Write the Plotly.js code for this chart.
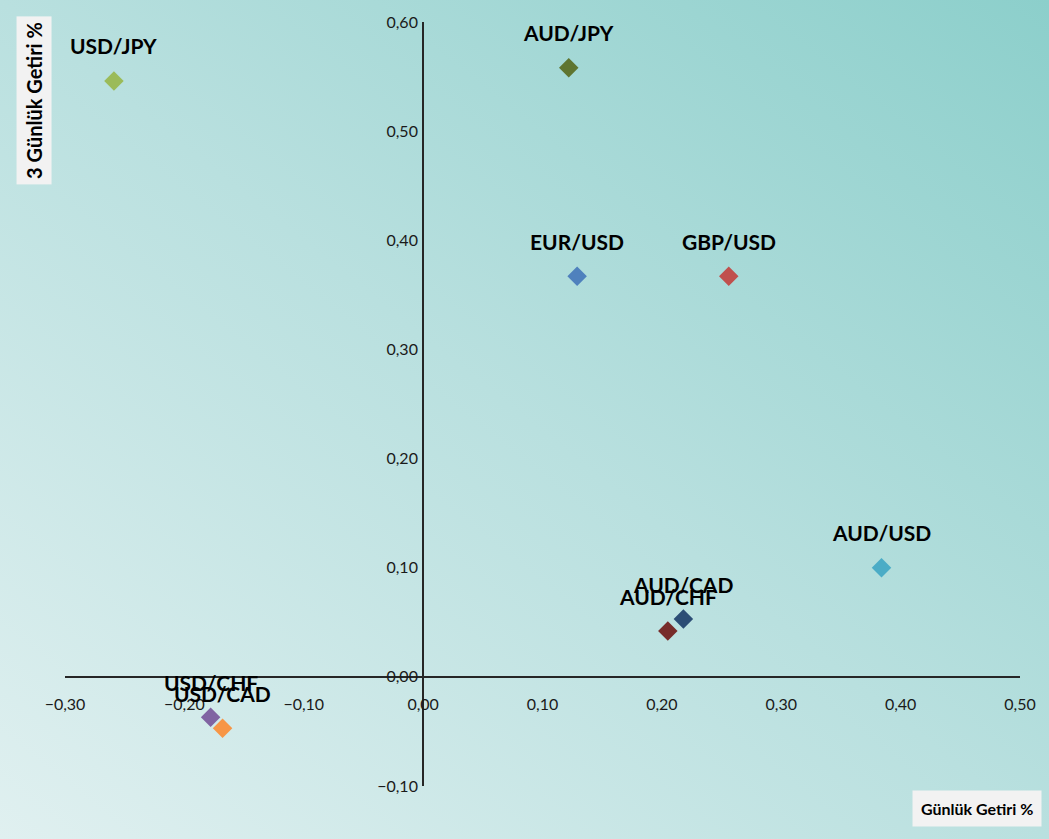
<!DOCTYPE html>
<html>
<head>
<meta charset="utf-8">
<script src="https://cdn.plot.ly/plotly-3.0.1.min.js"></script>
<style>
  html, body { margin: 0; padding: 0; background: #ffffff; }
  #chart {
    width: 1049px; height: 839px;
    background: linear-gradient(to top right, #e0f0f0 0%, #b9e0df 50%, #8ccfcb 100%);
  }
</style>
</head>
<body>
<div id="chart"></div>
<script>
// ---- data ----
const pairs = ["USD/JPY", "AUD/JPY", "EUR/USD", "GBP/USD", "AUD/USD", "AUD/CAD", "AUD/CHF", "USD/CHF", "USD/CAD"];
const dailyReturn = [-0.259, 0.122, 0.129, 0.256, 0.384, 0.218, 0.205, -0.178, -0.168];
const threeDayReturn = [0.546, 0.558, 0.367, 0.367, 0.100, 0.053, 0.042, -0.037, -0.047];
const colors = ["#9bbb59", "#5f7530", "#4f81bd", "#c0504d", "#4bacc6", "#2c4d75", "#772c2a", "#8064a2", "#f79646"];
const xTicks = [-0.3, -0.2, -0.1, 0.0, 0.1, 0.2, 0.3, 0.4, 0.5];
const yTicks = [-0.1, 0.0, 0.1, 0.2, 0.3, 0.4, 0.5, 0.6];
const xTitle = "Günlük Getiri %";
const yTitle = "3 Günlük Getiri %";

const xRange = [-0.3, 0.5];
const yRange = [-0.1, 0.6];

const traces = pairs.map((p, i) => ({
  type: "scatter",
  mode: "markers",
  x: [dailyReturn[i]],
  y: [threeDayReturn[i]],
  name: p,
  marker: { symbol: "diamond", size: 15, color: colors[i] },
  hoverinfo: "x+y+name"
}));

const fam = "Lato, 'Open Sans', sans-serif";
const labelFont = { family: fam, size: 21, color: "#000000", weight: "bold" };

const annotations = pairs.map((p, i) => ({
  x: dailyReturn[i], y: threeDayReturn[i], xref: "x", yref: "y",
  text: p, showarrow: false, yshift: 35, font: labelFont,
  xanchor: "center", yanchor: "middle"
}));

annotations.push({
  xref: "paper", yref: "paper", x: -0.0325, y: 0.898,
  text: yTitle, textangle: -90, showarrow: false,
  font: { family: fam, size: 20, color: "#000000", weight: "bold" },
  bgcolor: "#f2f2f2", borderpad: 5, xanchor: "center", yanchor: "middle"
});
annotations.push({
  xref: "paper", yref: "paper", x: 0.955, y: -0.030,
  text: xTitle, showarrow: false,
  font: { family: fam, size: 16, color: "#000000", weight: "bold" },
  bgcolor: "#f2f2f2", borderpad: 8, xanchor: "center", yanchor: "middle"
});

const tickFont = { family: fam, size: 16, color: "#1a1a1a" };

const layout = {
  width: 1049, height: 839,
  margin: { l: 65, r: 29, t: 22, b: 53 },
  paper_bgcolor: "rgba(0,0,0,0)",
  plot_bgcolor: "rgba(0,0,0,0)",
  separators: ",.",
  showlegend: false,
  xaxis: {
    range: xRange, tickvals: xTicks, tickformat: ".2f",
    anchor: "free", position: (0 - yRange[0]) / (yRange[1] - yRange[0]),
    showgrid: false, zeroline: false,
    showline: true, linecolor: "#262626", linewidth: 2,
    ticks: "", ticklabelstandoff: 13, tickfont: tickFont
  },
  yaxis: {
    range: yRange, tickvals: yTicks, tickformat: ".2f",
    anchor: "free", position: (0 - xRange[0]) / (xRange[1] - xRange[0]),
    showgrid: false, zeroline: false,
    showline: true, linecolor: "#262626", linewidth: 2,
    ticks: "", ticklabelstandoff: 1, tickfont: tickFont
  },
  annotations: annotations
};

Plotly.newPlot("chart", traces, layout, { displayModeBar: false, staticPlot: true });
</script>
</body>
</html>
